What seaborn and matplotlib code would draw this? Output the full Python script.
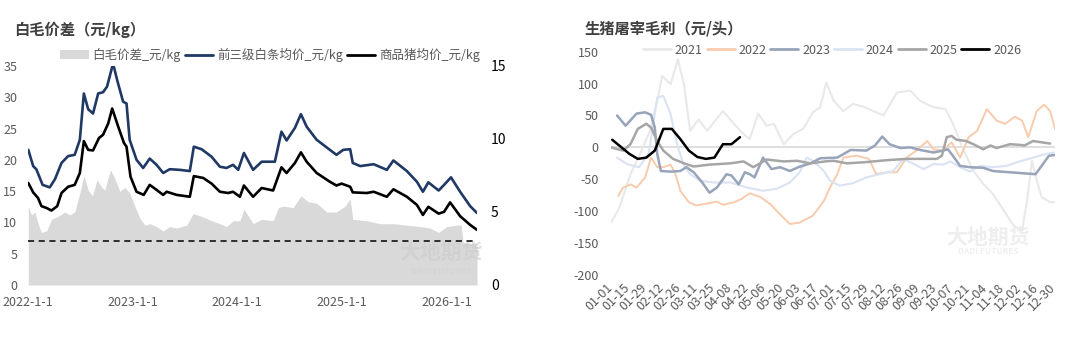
import numpy as np
import pandas as pd
import matplotlib
matplotlib.use("Agg")
import matplotlib.pyplot as plt
import seaborn as sns
from matplotlib.patches import Patch
from matplotlib.lines import Line2D

# ---------------- data: left panel ----------------
blue_dates = ['2022-01-01','2022-01-18','2022-01-29','2022-02-20','2022-03-17','2022-04-04','2022-04-27','2022-05-20','2022-06-12','2022-06-30',
              '2022-07-14','2022-07-29','2022-08-15','2022-09-02','2022-09-19','2022-10-03','2022-10-24','2022-11-07','2022-11-28','2022-12-10',
              '2022-12-21','2023-01-14','2023-02-06','2023-03-01','2023-03-25','2023-04-17','2023-05-10','2023-06-14','2023-07-19','2023-08-02',
              '2023-08-29','2023-10-03','2023-11-01','2023-11-24','2023-12-17','2024-01-04','2024-01-24','2024-02-25','2024-03-26','2024-05-11',
              '2024-06-03','2024-06-21','2024-07-20','2024-08-10','2024-08-30','2024-10-04','2024-11-19','2024-12-12','2025-01-05','2025-01-29',
              '2025-02-07','2025-03-05','2025-04-21','2025-06-06','2025-06-29','2025-08-15','2025-09-19','2025-10-10','2025-10-29','2025-12-04',
              '2025-12-23','2026-01-16','2026-02-17','2026-03-24','2026-04-17']
blue_vals = [21.6,19.0,18.5,16.0,15.6,16.9,19.5,20.6,20.8,23.2,
             30.6,28.1,27.4,30.6,30.8,31.7,35.4,32.8,29.3,29.0,
             23.2,20.0,18.7,20.2,19.2,17.9,18.5,18.4,18.2,22.1,
             21.7,20.5,18.9,18.7,19.2,18.4,21.1,18.4,19.7,19.7,
             24.5,23.1,25.1,27.3,25.3,23.2,21.6,20.8,21.6,21.7,
             19.5,19.0,19.3,18.4,19.9,18.2,16.5,14.9,16.4,15.1,
             16.0,17.2,14.9,12.6,11.5]

black_dates = ['2022-01-01','2022-01-18','2022-02-04','2022-02-16','2022-03-06','2022-03-23','2022-04-12','2022-04-27','2022-05-20','2022-06-12',
               '2022-06-30','2022-07-14','2022-07-29','2022-08-15','2022-09-05','2022-09-19','2022-10-07','2022-10-21','2022-11-11','2022-12-01',
               '2022-12-10','2022-12-24','2023-01-14','2023-02-08','2023-03-01','2023-03-25','2023-04-17','2023-04-29','2023-06-03','2023-07-19',
               '2023-08-02','2023-09-04','2023-10-03','2023-11-01','2023-11-30','2023-12-17','2024-01-10','2024-01-24','2024-02-25','2024-03-26',
               '2024-05-05','2024-06-03','2024-06-21','2024-07-20','2024-08-10','2024-08-30','2024-10-04','2024-11-19','2024-12-12','2024-12-30',
               '2025-01-29','2025-02-07','2025-03-28','2025-04-21','2025-06-06','2025-06-29','2025-08-15','2025-09-19','2025-10-10','2025-10-29',
               '2025-12-04','2025-12-23','2026-01-13','2026-02-17','2026-03-24','2026-04-17']
black_vals = [16.3,14.8,13.9,12.6,12.3,11.9,12.6,14.7,15.7,16.0,
              17.9,23.0,21.6,21.5,23.5,24.0,25.8,28.2,25.3,22.7,
              22.1,17.3,14.9,14.4,16.0,15.2,14.4,14.9,14.4,14.1,
              17.4,17.1,16.2,14.9,14.7,14.9,14.1,15.9,14.1,15.5,
              15.1,18.8,17.9,19.5,21.2,19.7,17.9,16.5,15.9,16.2,
              15.7,14.8,14.7,14.9,14.1,15.3,14.1,12.8,11.2,12.5,
              11.4,11.7,13.2,11.0,9.6,8.8]

spread_dates = ['2022-01-01','2022-01-12','2022-01-24','2022-02-04','2022-02-16','2022-03-06','2022-03-23','2022-04-15','2022-05-08','2022-05-26',
                '2022-06-12','2022-06-30','2022-07-14','2022-07-29','2022-08-13','2022-08-29','2022-09-14','2022-09-25','2022-10-15','2022-10-30',
                '2022-11-17','2022-12-04','2022-12-21','2023-01-08','2023-01-25','2023-02-12','2023-03-01','2023-03-25','2023-04-17','2023-05-10',
                '2023-06-03','2023-07-08','2023-07-31','2023-08-29','2023-10-03','2023-11-01','2023-11-24','2023-12-17','2024-01-10','2024-01-24',
                '2024-02-25','2024-03-26','2024-05-05','2024-05-23','2024-06-09','2024-07-14','2024-08-10','2024-09-04','2024-10-04','2024-11-08',
                '2024-12-12','2025-01-11','2025-01-29','2025-02-07','2025-03-28','2025-05-13','2025-06-29','2025-08-15','2025-09-30','2025-11-04',
                '2025-12-04','2026-01-01','2026-02-06','2026-02-21','2026-02-27','2026-04-17']
spread_vals = [5.4,4.8,5.0,4.2,3.6,3.7,4.5,4.7,5.0,4.8,
               5.0,6.3,7.5,6.5,6.1,7.2,6.7,6.5,7.9,7.3,
               6.4,6.7,6.3,5.4,4.6,4.1,4.2,4.0,3.7,4.0,
               3.9,4.1,4.9,4.7,4.4,4.2,4.0,4.4,4.4,5.2,
               4.2,4.5,4.4,5.3,5.4,5.3,6.1,5.7,5.6,5.0,
               5.0,5.4,5.9,4.5,4.4,4.2,4.2,4.1,4.0,3.9,
               3.6,4.0,4.1,4.1,2.9,2.8]
ref_level = 7
left_xticks = ['2022-01-01','2023-01-01','2024-01-01','2025-01-01','2026-01-01']
left_xticklabels = ['2022-1-1','2023-1-1','2024-1-1','2025-1-1','2026-1-1']
legend_left = ['白毛价差_元/kg','前三级白条均价_元/kg','商品猪均价_元/kg']

# ---------------- data: right panel ----------------
d2021 = [0,7,16,24,32,38,42,49,55,60,65,72,79,92,101,109,114,121,128,134,142,150,158,166,172,177,183,191,199,207,
         218,224,235,246,254,265,275,281,290,298,306,314,323,331,338,342,346,350,354,361,365]
v2021 = [-118,-94,-42,-10,26,73,112,99,138,99,26,44,26,57,37,21,13,53,34,37,5,21,29,55,63,102,73,57,68,64,
         55,50,86,89,73,63,60,37,-5,-37,-57,-73,-99,-123,-130,-84,-21,-52,-78,-86,-86]
d2022 = [6,10,16,21,28,33,38,43,49,53,57,64,70,79,87,92,101,107,114,123,131,139,147,155,166,175,180,186,191,202,
         212,218,227,235,243,251,260,265,273,280,287,294,301,309,317,324,332,338,343,350,356,361,365]
v2022 = [-76,-63,-58,-63,-47,-16,-31,-31,-27,-42,-68,-86,-91,-88,-85,-90,-86,-81,-72,-78,-89,-105,-120,-118,-107,-84,-63,-42,-16,-13,
         -18,-42,-39,-39,-16,-5,10,-3,-5,8,-16,16,26,60,42,37,48,42,16,57,67,57,29]
d2023 = [5,12,21,28,33,36,38,41,49,57,62,68,75,81,87,95,99,105,110,114,118,125,132,139,147,154,164,172,186,197,
         210,217,223,229,238,246,254,265,273,277,281,287,295,306,314,328,342,349,354,360,365]
v2023 = [50,34,53,55,51,31,-10,-37,-38,-37,-31,-39,-55,-71,-63,-42,-44,-58,-39,-42,-47,-16,-34,-31,-37,-31,-25,-17,-16,-4,
         -5,3,17,5,-1,0,-4,-8,-5,-3,-13,-29,-31,-32,-37,-39,-41,-42,-29,-13,-12]
d2024 = [5,13,23,31,38,43,49,55,60,65,73,84,98,112,125,136,147,155,161,166,175,180,188,199,210,221,232,240,249,257,
         265,273,279,287,295,303,314,325,336,347,358,365]
v2024 = [-16,-26,-31,-10,78,81,52,0,-29,-42,-52,-55,-55,-63,-68,-65,-55,-39,-16,-21,-37,-52,-60,-56,-47,-42,-37,-18,-26,-34,
         -26,-27,-22,-31,-38,-29,-31,-29,-22,-16,-10,-8]
d2025 = [0,10,16,22,29,33,38,43,51,60,68,81,98,109,117,128,142,153,164,176,183,194,210,227,243,254,268,272,276,280,
         284,292,299,306,312,317,328,336,340,347,354,361]
v2025 = [0,-5,5,29,37,31,10,-5,-18,-25,-30,-27,-25,-22,-31,-19,-22,-21,-25,-22,-21,-25,-23,-20,-18,-18,-18,-13,16,18,
         12,10,4,-3,3,-1,5,4,3,10,8,6]
d2026 = [1,8,15,22,29,36,43,50,57,64,71,78,85,92,99,106]
v2026 = [12,1,-10,-18,-16,-5,29,29,13,-5,-15,-18,-16,5,5,16]
years = ['2021','2022','2023','2024','2025','2026']
right_tick_days = [0,14,28,42,56,70,84,98,112,126,140,154,168,182,196,210,224,238,252,266,280,294,308,322,336,350,364]
right_tick_labels = ['01-01','01-15','01-29','02-12','02-26','03-11','03-25','04-08','04-22','05-06','05-20','06-03','06-17',
                     '07-01','07-15','07-29','08-12','08-26','09-09','09-23','10-07','10-21','11-04','11-18','12-02','12-16','12-30']

# ---------------- style ----------------
sns.set_theme(style='white')
plt.rcParams['font.family'] = ['Noto Sans CJK SC', 'DejaVu Sans']
plt.rcParams['axes.unicode_minus'] = False
GRAY_TXT = '#595959'

fig = plt.figure(figsize=(10.8, 3.42), dpi=100)

# ================= left panel =================
axr = fig.add_axes([0.0262, 0.1667, 0.4155, 0.6404])
axl = axr.twinx()
axr.yaxis.tick_right()
axl.yaxis.tick_left()

sd = pd.to_datetime(spread_dates)
axr.fill_between(sd, spread_vals, 0, color='#d9d9d9', lw=0, zorder=1)
sns.lineplot(x=pd.to_datetime(blue_dates), y=blue_vals, ax=axl, color='#1f3864', lw=1.9, zorder=3)
sns.lineplot(x=pd.to_datetime(black_dates), y=black_vals, ax=axl, color='black', lw=1.9, zorder=3)
axl.axhline(ref_level, color='black', lw=1.1, ls=(0, (4, 3)), zorder=2)

x0, x1 = pd.Timestamp('2022-01-01'), pd.Timestamp('2026-04-17')
axr.set_xlim(x0, x1)
axl.set_xlim(x0, x1)
axl.set_ylim(0, 35)
axr.set_ylim(0, 15)
axl.set_yticks(range(0, 36, 5))
axr.set_yticks([0, 5, 10, 15])
axr.set_xticks(pd.to_datetime(left_xticks))
axr.set_xticklabels(left_xticklabels)
for a in (axl, axr):
    a.set_xlabel('')
    a.set_ylabel('')
    for s in a.spines.values():
        s.set_visible(False)
    a.grid(False)
axl.tick_params(axis='y', length=0, pad=8, labelsize=9, labelcolor=GRAY_TXT)
axr.tick_params(axis='y', length=0, pad=10, labelsize=10, labelcolor='black')
axr.tick_params(axis='x', length=0, pad=8, labelsize=9, labelcolor=GRAY_TXT)
axl.tick_params(axis='x', length=0, labelbottom=False)

# watermark left
axl.text(0.92, 0.15, '大地期货', transform=axl.transAxes, ha='center', va='center',
         fontsize=15, fontweight='bold', color='#cdcdcd', alpha=0.6, zorder=0)
axl.text(0.92, 0.06, 'DADI FUTURES', transform=axl.transAxes, ha='center', va='center',
         fontsize=6, fontweight='bold', color='#d2d2d2', alpha=0.6, zorder=0)

fig.text(14/1080, 1-30/342, '白毛价差（元/kg）', fontsize=11, fontweight='bold', color='#404040', va='center', ha='left')
hl = [Patch(facecolor='#d9d9d9', edgecolor='none'),
      Line2D([], [], color='#1f3864', lw=2),
      Line2D([], [], color='black', lw=2)]
fig.legend(hl, legend_left, loc='center', bbox_to_anchor=(270/1080, 1-55/342), ncol=3, frameon=False,
           fontsize=9, handlelength=2.3, handletextpad=0.3, columnspacing=0.3, labelcolor=GRAY_TXT,
           borderpad=0, borderaxespad=0)

# ================= right panel =================
ax3 = fig.add_axes([611/1080, 1-275/342, 444/1080, (275-51.7)/342])
ax3.axhline(0, color='#d9d9d9', lw=1.2, zorder=1)
series = [(d2021, v2021, '#e9e9e9', 1.5), (d2022, v2022, '#f8cbad', 1.4), (d2024, v2024, '#dae3f3', 1.5),
          (d2023, v2023, '#97a4b9', 1.8), (d2025, v2025, '#a6a6a6', 1.8), (d2026, v2026, 'black', 1.8)]
for z, (d, v, c, w) in enumerate(series):
    sns.lineplot(x=d, y=v, ax=ax3, color=c, lw=w, zorder=2 + z)
ax3.set_xlim(0, 365)
ax3.set_ylim(-200, 150)
ax3.set_yticks(range(-200, 151, 50))
ax3.set_xticks(right_tick_days)
ax3.set_xticklabels(right_tick_labels)
ax3.set_xlabel('')
ax3.set_ylabel('')
for s in ax3.spines.values():
    s.set_visible(False)
ax3.grid(False)
ax3.tick_params(axis='y', length=0, pad=9, labelsize=9, labelcolor=GRAY_TXT)
ax3.tick_params(axis='x', length=0, pad=8, labelsize=9, labelcolor=GRAY_TXT)
plt.setp(ax3.get_xticklabels(), rotation=45, ha='right', va='center', rotation_mode='anchor')

ax3.text(0.85, 0.17, '大地期货', transform=ax3.transAxes, ha='center', va='center',
         fontsize=15, fontweight='bold', color='#eeeeee', zorder=0)
ax3.text(0.85, 0.105, 'DADI FUTURES', transform=ax3.transAxes, ha='center', va='center',
         fontsize=6, fontweight='bold', color='#f0f0f0', zorder=0)

fig.text(585/1080, 1-29/342, '生猪屠宰毛利（元/头）', fontsize=11, fontweight='bold', color='#404040', va='center', ha='left')
colors_r = ['#e9e9e9', '#f8cbad', '#97a4b9', '#dae3f3', '#a6a6a6', 'black']
hr = [Line2D([], [], color=c, lw=2) for c in colors_r]
fig.legend(hr, years, loc='center', bbox_to_anchor=(832/1080, 1-50/342), ncol=6, frameon=False,
           fontsize=9, handlelength=2.25, handletextpad=0.3, columnspacing=0.3, labelcolor=GRAY_TXT,
           borderpad=0, borderaxespad=0)

fig.savefig('out.png', dpi=100)
